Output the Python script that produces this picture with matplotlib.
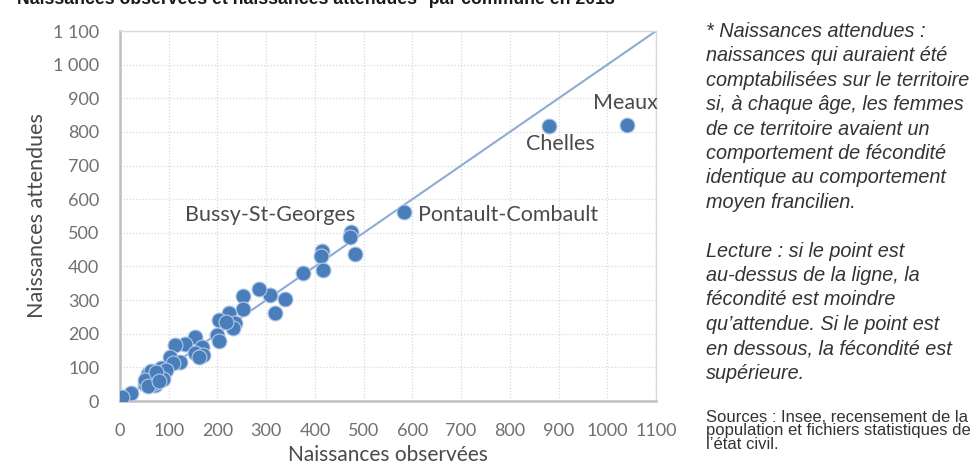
import matplotlib
matplotlib.use('Agg')
import matplotlib.pyplot as plt
from matplotlib.ticker import FixedLocator

# naissances observées / attendues par commune
observees = [1040, 880, 583, 475, 473, 483, 414, 412, 416, 375, 339, 318, 308,
             286, 253, 253, 224, 236, 232, 204, 217, 200, 204, 154, 133, 113,
             168, 154, 171, 163, 103, 123, 108, 85, 79, 60, 55, 68, 51, 72,
             62, 75, 82, 90, 95, 58, 66, 70, 78, 88, 64, 52, 57, 74, 80, 22, 4]
attendues = [822, 818, 561, 503, 487, 437, 446, 431, 391, 382, 302, 261, 315,
             333, 313, 273, 262, 233, 217, 241, 236, 196, 179, 191, 169, 166,
             161, 142, 137, 132, 130, 117, 112, 97, 84, 72, 67, 74, 52, 48,
             57, 64, 77, 88, 92, 80, 60, 55, 70, 66, 90, 62, 45, 86, 58, 23, 12]

communes = ['Meaux', 'Chelles', 'Pontault-Combault', 'Bussy-St-Georges']
label_x = [1038, 903, 612, 308]
label_y = [886, 764, 553, 553]
label_ha = ['center', 'center', 'left', 'center']

ticks = list(range(0, 1200, 100))
xlabels = [str(t) for t in ticks]
ylabels = ['{:,}'.format(t).replace(',', ' ') for t in ticks]

fig = plt.figure(figsize=(9.74, 4.63), dpi=100)
ax = fig.add_axes([0.1232, 0.1339, 0.5503, 0.799])

ax.plot([0, 1100], [0, 1100], color='#8eaad6', lw=1.5, zorder=2)
ax.scatter(observees, attendues, s=115, color='#4a7ebb', edgecolors='#b3c9e8',
           linewidths=0.8, zorder=3)

for name, x, y, ha in zip(communes, label_x, label_y, label_ha):
    ax.text(x, y, name, ha=ha, va='center', fontsize=15.5, color='#4a4a4a',
            family='Lato', zorder=4)

ax.set_xlim(0, 1100)
ax.set_ylim(0, 1100)
ax.xaxis.set_major_locator(FixedLocator(ticks))
ax.yaxis.set_major_locator(FixedLocator(ticks))
ax.set_xticklabels(xlabels)
ax.set_yticklabels(ylabels)
ax.tick_params(length=0, labelsize=13, labelcolor='#707070')
ax.tick_params(axis='x', pad=16)
ax.tick_params(axis='y', pad=15)
for lab in ax.get_xticklabels() + ax.get_yticklabels():
    lab.set_family('Lato')
ax.grid(True, color='#d9d9d9', linestyle=(0, (1, 1.5)), lw=0.9, zorder=0)
ax.set_axisbelow(True)
for side in ['left', 'bottom']:
    ax.spines[side].set_color('#bfbfbf')
    ax.spines[side].set_linewidth(1.8)
for side in ['top', 'right']:
    ax.spines[side].set_color('#d9d9d9')
    ax.spines[side].set_linewidth(1.0)

ax.set_xlabel('Naissances observées', fontsize=15, color='#4a4a4a', family='Lato', labelpad=4)
ax.set_ylabel('Naissances attendues', fontsize=15.5, color='#4a4a4a', family='Lato', labelpad=4)

fig.text(17 / 974, 1 - 4 / 463, 'Naissances observées et naissances attendues* par commune en 2013',
         fontsize=12.7, fontweight='bold', color='#1a1a1a', family='Liberation Sans',
         ha='left', va='baseline')

note = ("* Naissances attendues :\n"
        "naissances qui auraient été\n"
        "comptabilisées sur le territoire\n"
        "si, à chaque âge, les femmes\n"
        "de ce territoire avaient un\n"
        "comportement de fécondité\n"
        "identique au comportement\n"
        "moyen francilien.\n"
        "\n"
        "Lecture : si le point est\n"
        "au-dessus de la ligne, la\n"
        "fécondité est moindre\n"
        "qu’attendue. Si le point est\n"
        "en dessous, la fécondité est\n"
        "supérieure.")
fig.text(706 / 974, 1 - 22 / 463, note, fontsize=14.3, style='italic', color='#333333',
         family='Liberation Sans', ha='left', va='top', linespacing=1.36)

sources = ("Sources : Insee, recensement de la\n"
           "population et fichiers statistiques de\n"
           "l’état civil.")
fig.text(706 / 974, 1 - 410 / 463, sources, fontsize=12, color='#333333',
         family='Liberation Sans', ha='left', va='top', linespacing=0.86)

fig.savefig('out.png', dpi=100)
